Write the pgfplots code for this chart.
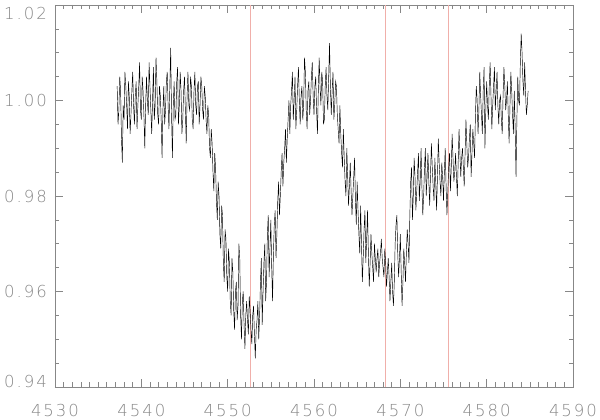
\documentclass[border=0pt]{standalone}
\usepackage{pgfplots}
\pgfplotsset{compat=1.18}
\usepackage{fontspec}
\newfontfamily\tickfont[LetterSpace=12]{DejaVu Sans ExtraLight}
\definecolor{axgray}{RGB}{135,135,135}
\definecolor{linered}{RGB}{240,175,170}
\newcommand\tf{\tickfont\fontsize{16.5}{16.5}\selectfont}

\begin{document}
\begin{tikzpicture}
\path[use as bounding box] (-55pt,-33pt) rectangle (545pt,387pt);
\begin{axis}[
  width=518pt, height=382pt, scale only axis,
  xmin=4530, xmax=4590, ymin=0.94, ymax=1.02,
  xtick={4530,4540,4550,4560,4570,4580,4590},
  ytick={0.94,0.96,0.98,1.00,1.02},
  yticklabels={,0.96,0.98,1.00,},
  minor x tick num=9, minor y tick num=3,
  tick align=inside,
  major tick length=8pt, minor tick length=4.5pt,
  axis line style={axgray, line width=0.6pt},
  every tick/.style={axgray, line width=0.6pt},
  scaled x ticks=false, scaled y ticks=false,
  /pgf/number format/1000 sep={},
  /pgf/number format/assume math mode=true,
  tick label style={text=axgray, font=\tf, inner sep=0pt},
  xticklabel style={yshift=-17pt},
  yticklabel style={xshift=-8pt},
  clip=false,
]
% reference wavelengths
\addplot[linered, line width=0.5pt] coordinates {(4552.6,0.94) (4552.6,1.02)};
\addplot[linered, line width=0.5pt] coordinates {(4568.3,0.94) (4568.3,1.02)};
\addplot[linered, line width=0.5pt] coordinates {(4575.6,0.94) (4575.6,1.02)};

% spectrum
\addplot[black, line width=0.45pt] table {
4537.2 1.003
4537.3 0.995
4537.4 0.998
4537.5 1.005
4537.6 1.002
4537.7 0.992
4537.8 0.987
4537.9 0.999
4538.0 0.996
4538.1 1.006
4538.2 1.003
4538.3 0.999
4538.4 0.994
4538.5 1.004
4538.6 1.001
4538.7 0.993
4538.8 0.997
4538.9 1.002
4539.0 1.006
4539.1 0.999
4539.2 0.995
4539.3 1.001
4539.4 1.004
4539.5 0.994
4539.6 0.999
4539.7 1.003
4539.8 1.008
4539.9 0.998
4540.0 0.996
4540.1 1.005
4540.2 1.002
4540.3 0.997
4540.4 0.990
4540.5 0.999
4540.6 1.005
4540.7 1.000
4540.8 0.997
4540.9 1.008
4541.0 1.003
4541.1 0.998
4541.2 0.993
4541.3 1.000
4541.4 1.007
4541.5 0.996
4541.6 0.999
4541.7 1.009
4541.8 1.004
4541.9 0.997
4542.0 0.995
4542.1 1.003
4542.2 1.001
4542.3 0.996
4542.4 0.988
4542.5 0.998
4542.6 1.003
4542.7 0.995
4542.8 0.998
4542.9 1.004
4543.0 1.006
4543.1 0.999
4543.2 0.994
4543.3 1.003
4543.4 1.011
4543.5 0.997
4543.6 0.988
4543.7 0.999
4543.8 1.004
4543.9 0.996
4544.0 0.997
4544.1 1.004
4544.2 1.007
4544.3 0.995
4544.4 0.999
4544.5 1.006
4544.6 1.002
4544.7 0.993
4544.8 0.996
4544.9 1.002
4545.0 1.005
4545.1 0.998
4545.2 0.991
4545.3 1.001
4545.4 1.006
4545.5 0.999
4545.6 0.998
4545.7 1.005
4545.8 1.003
4545.9 0.996
4546.0 0.994
4546.1 1.002
4546.2 1.006
4546.3 0.999
4546.4 0.997
4546.5 1.003
4546.6 1.004
4546.7 0.995
4546.8 0.999
4546.9 1.005
4547.0 1.003
4547.1 0.998
4547.2 0.996
4547.3 1.003
4547.4 1.001
4547.5 0.996
4547.6 0.993
4547.7 0.999
4547.8 0.997
4547.9 0.990
4548.0 0.988
4548.1 0.994
4548.2 0.991
4548.3 0.985
4548.4 0.981
4548.5 0.989
4548.6 0.986
4548.7 0.979
4548.8 0.975
4548.9 0.983
4549.0 0.980
4549.1 0.972
4549.2 0.969
4549.3 0.978
4549.4 0.976
4549.5 0.966
4549.6 0.962
4549.7 0.973
4549.8 0.971
4549.9 0.963
4550.0 0.960
4550.1 0.969
4550.2 0.966
4550.3 0.958
4550.4 0.955
4550.5 0.967
4550.6 0.964
4550.7 0.956
4550.8 0.952
4550.9 0.960
4551.0 0.962
4551.1 0.954
4551.2 0.957
4551.3 0.970
4551.4 0.967
4551.5 0.955
4551.6 0.950
4551.7 0.958
4551.8 0.960
4551.9 0.953
4552.0 0.948
4552.1 0.955
4552.2 0.958
4552.3 0.954
4552.4 0.951
4552.5 0.959
4552.6 0.956
4552.7 0.952
4552.8 0.949
4552.9 0.955
4553.0 0.957
4553.1 0.951
4553.2 0.946
4553.3 0.952
4553.4 0.954
4553.5 0.958
4553.6 0.950
4553.7 0.955
4553.8 0.962
4553.9 0.967
4554.0 0.953
4554.1 0.960
4554.2 0.966
4554.3 0.970
4554.4 0.958
4554.5 0.962
4554.6 0.972
4554.7 0.976
4554.8 0.963
4554.9 0.969
4555.0 0.975
4555.1 0.965
4555.2 0.958
4555.3 0.968
4555.4 0.974
4555.5 0.977
4555.6 0.967
4555.7 0.972
4555.8 0.979
4555.9 0.983
4556.0 0.976
4556.1 0.980
4556.2 0.985
4556.3 0.989
4556.4 0.982
4556.5 0.987
4556.6 0.990
4556.7 0.994
4556.8 0.987
4556.9 0.992
4557.0 0.996
4557.1 1.000
4557.2 0.993
4557.3 0.999
4557.4 1.002
4557.5 1.006
4557.6 0.996
4557.7 1.000
4557.8 1.005
4557.9 0.994
4558.0 0.998
4558.1 1.003
4558.2 1.007
4558.3 1.000
4558.4 0.995
4558.5 1.001
4558.6 1.003
4558.7 0.996
4558.8 0.999
4558.9 1.009
4559.0 1.006
4559.1 0.998
4559.2 0.994
4559.3 1.002
4559.4 1.004
4559.5 0.997
4559.6 1.000
4559.7 1.005
4559.8 1.008
4559.9 1.001
4560.0 0.997
4560.1 1.003
4560.2 1.005
4560.3 0.998
4560.4 0.993
4560.5 1.002
4560.6 1.009
4560.7 1.003
4560.8 0.999
4560.9 1.006
4561.0 1.004
4561.1 0.995
4561.2 0.996
4561.3 1.003
4561.4 1.007
4561.5 1.001
4561.6 0.998
4561.7 1.005
4561.8 1.012
4561.9 1.003
4562.0 0.997
4562.1 1.002
4562.2 1.006
4562.3 0.996
4562.4 0.999
4562.5 1.004
4562.6 1.003
4562.7 0.997
4562.8 0.994
4562.9 0.991
4563.0 0.999
4563.1 0.993
4563.2 0.989
4563.3 0.986
4563.4 0.994
4563.5 0.988
4563.6 0.983
4563.7 0.980
4563.8 0.990
4563.9 0.984
4564.0 0.978
4564.1 0.982
4564.2 0.987
4564.3 0.981
4564.4 0.976
4564.5 0.980
4564.6 0.984
4564.7 0.988
4564.8 0.979
4564.9 0.974
4565.0 0.983
4565.1 0.977
4565.2 0.972
4565.3 0.968
4565.4 0.978
4565.5 0.970
4565.6 0.962
4565.7 0.967
4565.8 0.973
4565.9 0.977
4566.0 0.966
4566.1 0.971
4566.2 0.977
4566.3 0.968
4566.4 0.961
4566.5 0.966
4566.6 0.972
4566.7 0.968
4566.8 0.965
4566.9 0.962
4567.0 0.970
4567.1 0.967
4567.2 0.964
4567.3 0.967
4567.4 0.969
4567.5 0.963
4567.6 0.966
4567.7 0.968
4567.8 0.971
4567.9 0.967
4568.0 0.965
4568.1 0.963
4568.2 0.969
4568.3 0.966
4568.4 0.961
4568.5 0.964
4568.6 0.967
4568.7 0.963
4568.8 0.958
4568.9 0.962
4569.0 0.966
4569.1 0.960
4569.2 0.957
4569.3 0.962
4569.4 0.970
4569.5 0.974
4569.6 0.976
4569.7 0.968
4569.8 0.963
4569.9 0.967
4570.0 0.972
4570.1 0.964
4570.2 0.957
4570.3 0.962
4570.4 0.969
4570.5 0.966
4570.6 0.962
4570.7 0.968
4570.8 0.973
4570.9 0.970
4571.0 0.966
4571.1 0.976
4571.2 0.983
4571.3 0.986
4571.4 0.975
4571.5 0.980
4571.6 0.988
4571.7 0.984
4571.8 0.977
4571.9 0.981
4572.0 0.985
4572.1 0.989
4572.2 0.979
4572.3 0.983
4572.4 0.990
4572.5 0.982
4572.6 0.976
4572.7 0.980
4572.8 0.986
4572.9 0.990
4573.0 0.980
4573.1 0.984
4573.2 0.989
4573.3 0.983
4573.4 0.978
4573.5 0.985
4573.6 0.991
4573.7 0.986
4573.8 0.982
4573.9 0.979
4574.0 0.988
4574.1 0.983
4574.2 0.977
4574.3 0.984
4574.4 0.992
4574.5 0.987
4574.6 0.983
4574.7 0.980
4574.8 0.987
4574.9 0.984
4575.0 0.979
4575.1 0.985
4575.2 0.990
4575.3 0.982
4575.4 0.976
4575.5 0.981
4575.6 0.986
4575.7 0.989
4575.8 0.981
4575.9 0.986
4576.0 0.993
4576.1 0.988
4576.2 0.983
4576.3 0.985
4576.4 0.989
4576.5 0.984
4576.6 0.980
4576.7 0.987
4576.8 0.994
4576.9 0.989
4577.0 0.984
4577.1 0.988
4577.2 0.990
4577.3 0.986
4577.4 0.982
4577.5 0.989
4577.6 0.996
4577.7 0.991
4577.8 0.986
4577.9 0.988
4578.0 0.992
4578.1 0.995
4578.2 0.984
4578.3 0.989
4578.4 0.994
4578.5 0.991
4578.6 0.988
4578.7 0.997
4578.8 1.003
4578.9 1.000
4579.0 0.993
4579.1 0.998
4579.2 1.006
4579.3 1.001
4579.4 0.997
4579.5 0.993
4579.6 1.002
4579.7 1.007
4579.8 0.990
4579.9 0.998
4580.0 1.004
4580.1 0.999
4580.2 0.996
4580.3 1.003
4580.4 1.008
4580.5 1.001
4580.6 0.994
4580.7 0.999
4580.8 1.003
4580.9 1.007
4581.0 0.998
4581.1 1.002
4581.2 1.006
4581.3 0.999
4581.4 0.995
4581.5 1.000
4581.6 1.001
4581.7 0.996
4581.8 0.993
4581.9 1.001
4582.0 1.007
4582.1 1.003
4582.2 0.998
4582.3 1.000
4582.4 1.004
4582.5 0.997
4582.6 0.991
4582.7 0.999
4582.8 1.006
4582.9 1.002
4583.0 0.997
4583.1 0.993
4583.2 1.002
4583.3 0.994
4583.4 0.984
4583.5 0.996
4583.6 1.005
4583.7 1.000
4583.8 0.999
4583.9 1.008
4584.0 1.014
4584.1 1.010
4584.2 1.004
4584.3 1.001
4584.4 1.008
4584.5 1.002
4584.6 0.997
4584.7 0.999
4584.8 1.002
};

% end labels of the y axis, set inside the range as in the original
\node[anchor=east, text=axgray, font=\tf, inner sep=0pt, xshift=-8pt, yshift=-8.5pt] at (axis cs:4530,1.02) {1.02};
\node[anchor=east, text=axgray, font=\tf, inner sep=0pt, xshift=-8pt, yshift=5.5pt] at (axis cs:4530,0.94) {0.94};
\end{axis}
\end{tikzpicture}
\end{document}
